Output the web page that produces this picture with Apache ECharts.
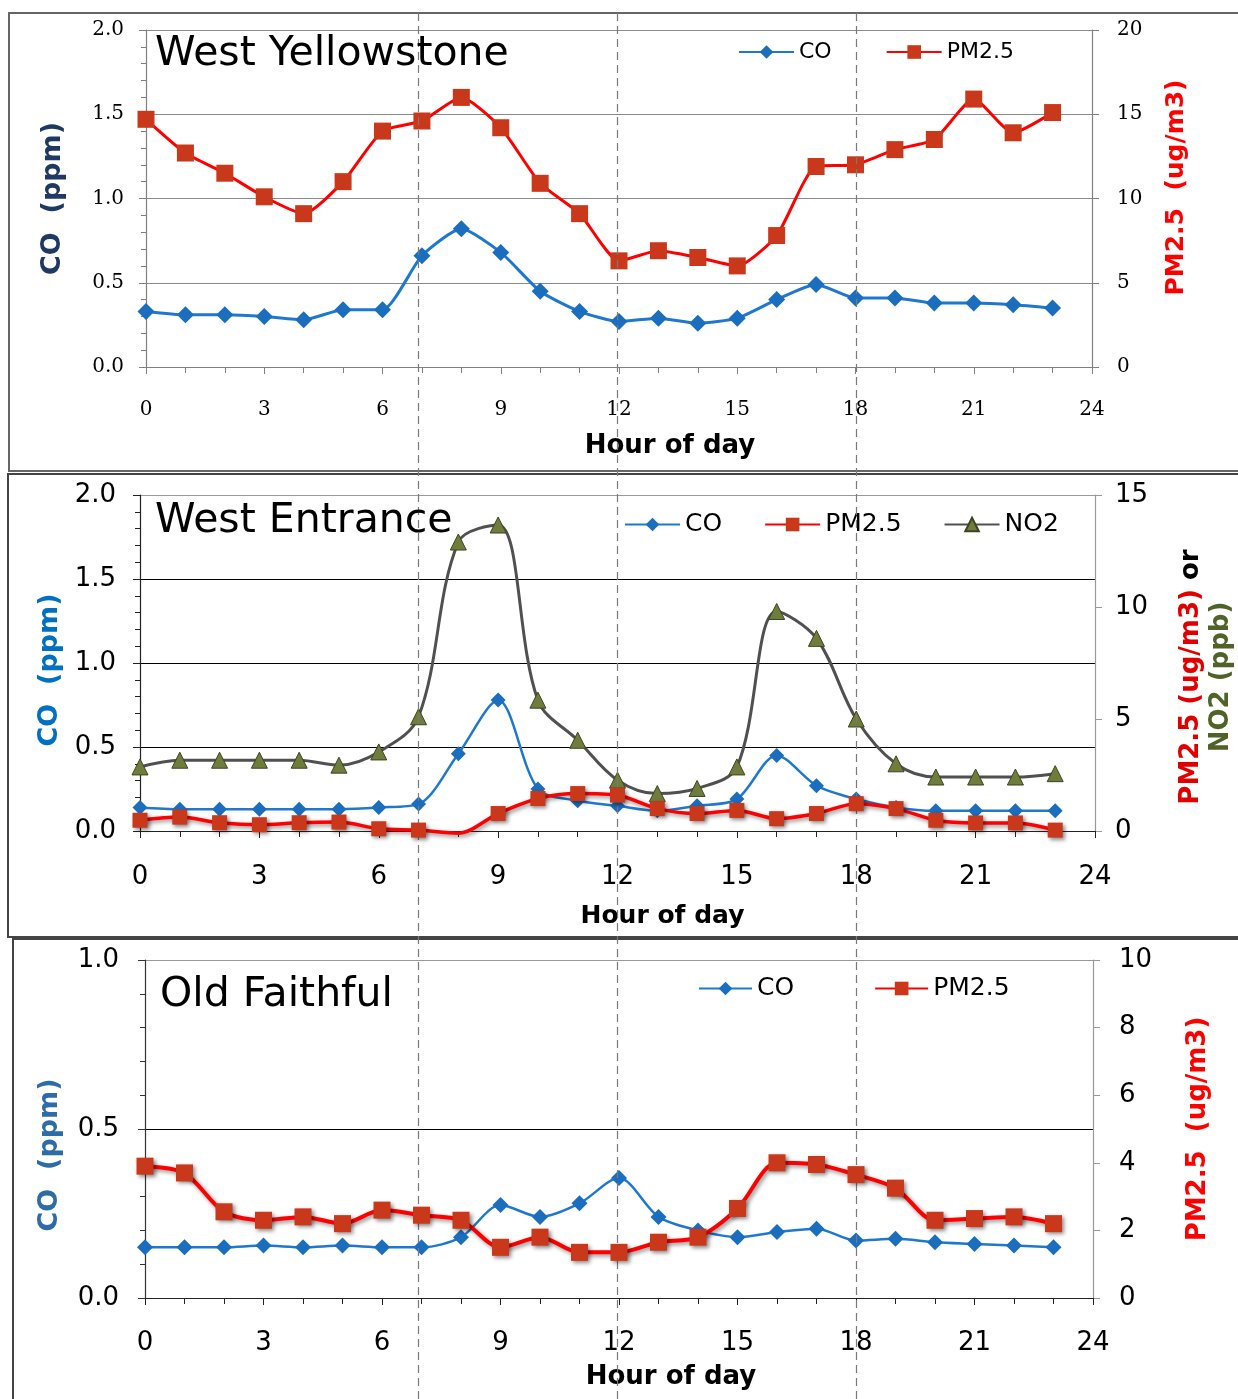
<!DOCTYPE html>
<html>
<head>
<meta charset="utf-8">
<script src="https://cdn.jsdelivr.net/npm/echarts@6/dist/echarts.min.js"></script>
<style>
html,body{margin:0;padding:0;background:#fff;}
#chart{width:1238px;height:1399px;}
</style>
</head>
<body>
<div id="chart"></div>
<script>
// ---------- DATA ----------
const hours = [0,1,2,3,4,5,6,7,8,9,10,11,12,13,14,15,16,17,18,19,20,21,22,23];
const xTicks = [0,3,6,9,12,15,18,21,24];
const refHours = [7,12,18];

// West Yellowstone
const wyCO   = [0.33,0.31,0.31,0.30,0.28,0.34,0.34,0.66,0.82,0.68,0.45,0.33,0.27,0.29,0.26,0.29,0.40,0.49,0.41,0.41,0.38,0.38,0.37,0.35];
const wyPM25 = [14.7,12.7,11.5,10.1,9.1,11.0,14.0,14.6,16.0,14.2,10.9,9.1,6.3,6.9,6.5,6.0,7.8,11.9,12.0,12.9,13.5,15.9,13.9,15.1];

// West Entrance
const weCO   = [0.14,0.13,0.13,0.13,0.13,0.13,0.14,0.16,0.46,0.78,0.25,0.18,0.15,0.12,0.15,0.19,0.45,0.27,0.19,0.14,0.12,0.12,0.12,0.12];
const wePM25 = [0.48,0.62,0.37,0.28,0.37,0.40,0.10,0.04,-0.1,0.78,1.45,1.67,1.60,1.00,0.78,0.92,0.55,0.78,1.22,1.00,0.48,0.36,0.36,0.04];
const weNO2  = [2.86,3.16,3.16,3.16,3.16,2.94,3.53,5.1,12.9,13.66,5.84,4.05,2.27,1.67,1.90,2.86,9.8,8.6,5.0,3.0,2.41,2.41,2.41,2.56];

// Old Faithful
const ofCO   = [0.15,0.15,0.15,0.155,0.15,0.155,0.15,0.15,0.18,0.275,0.24,0.28,0.355,0.24,0.20,0.18,0.195,0.205,0.17,0.175,0.165,0.16,0.155,0.15];
const ofPM25 = [3.9,3.7,2.55,2.3,2.4,2.2,2.6,2.45,2.3,1.5,1.8,1.35,1.35,1.65,1.8,2.65,4.0,3.95,3.65,3.25,2.3,2.35,2.4,2.2];

// ---------- HELPERS ----------
const pairs = vals => hours.map((h,i)=>[h, vals[i]]);
const SANS = '"DejaVu Sans", "Liberation Sans", Arial, sans-serif';
const SERIF = '"DejaVu Serif", "Liberation Serif", serif';

function xAxisFor(gi, o){
  return {
    type:'value', gridIndex:gi, min:0, max:24, interval:3,
    axisLine:{show:true, lineStyle:{color:o.axisColor, width:1.2}},
    axisTick:{show:true, inside:false, length:7, lineStyle:{color:o.axisColor}},
    minorTick:{show:true, splitNumber:3, length:6, lineStyle:{color:o.axisColor}},
    splitLine:{show:false},
    axisLabel:{fontFamily:o.labelFont, fontSize:o.labelSize, color:'#000', margin:o.labelMargin,
      formatter: v => xTicks.indexOf(v) >= 0 ? String(v) : ''},
    name:'Hour of day', nameLocation:'middle', nameGap:o.nameGap,
    nameTextStyle:{fontFamily:SANS, fontWeight:'bold', fontSize:o.nameSize, color:'#000', padding:[0,0,0,o.namePad]}
  };
}

const COc = '#1f78cf', COm = '#1b6dbd';
const PMc = '#ff0000', PMm = '#c9381a';
const NOc = '#505050', NOm = '#6e7d3c';
const hideNeg = size => (v => v[1] < 0 ? 0 : size);

const option = {
  animation:false,
  backgroundColor:'#fff',
  graphic:[
    {type:'rect', z:-10, shape:{x:9, y:13, width:1250, height:458}, style:{fill:'none', stroke:'#666', lineWidth:2}},
    {type:'rect', z:-10, shape:{x:8, y:474, width:1250, height:463}, style:{fill:'none', stroke:'#444', lineWidth:2}},
    {type:'rect', z:-10, shape:{x:13, y:939, width:1250, height:480}, style:{fill:'none', stroke:'#444', lineWidth:2}}
  ],
  title:[
    {text:'West Yellowstone', left:150, top:29, textStyle:{fontFamily:SANS, fontSize:41, fontWeight:'normal', color:'#000'}},
    {text:'West Entrance', left:150, top:496, textStyle:{fontFamily:SANS, fontSize:41, fontWeight:'normal', color:'#000'}},
    {text:'Old Faithful', left:155, top:970, textStyle:{fontFamily:SANS, fontSize:41, fontWeight:'normal', color:'#000'}}
  ],
  legend:[
    {data:['CO','PM2.5'], left:733, top:36, itemWidth:55, itemHeight:17, itemGap:54,
      textStyle:{fontFamily:SANS, fontSize:22, color:'#000'}},
    {data:['CO','PM2.5','NO2'], left:619, top:507, itemWidth:55, itemHeight:17, itemGap:42,
      textStyle:{fontFamily:SANS, fontSize:25, color:'#000'}},
    {data:['CO','PM2.5'], left:693, top:971, itemWidth:53, itemHeight:17, itemGap:80,
      textStyle:{fontFamily:SANS, fontSize:25, color:'#000'}}
  ],
  grid:[
    {left:146, right:146, top:30, height:337, outerBoundsMode:'none', containLabel:false},
    {left:140, right:143, top:495, height:336, outerBoundsMode:'none', containLabel:false},
    {left:145, right:145, top:960, height:338, outerBoundsMode:'none', containLabel:false},
    {left:140, right:143, top:13, bottom:0, outerBoundsMode:'none', containLabel:false}
  ],
  xAxis:[
    xAxisFor(0,{axisColor:'#808080', labelFont:SERIF, labelSize:20, labelMargin:33, nameGap:66, nameSize:26, namePad:102}),
    xAxisFor(1,{axisColor:'#222', labelFont:SANS, labelSize:26, labelMargin:33, nameGap:73, nameSize:25, namePad:90}),
    xAxisFor(2,{axisColor:'#222', labelFont:SANS, labelSize:26, labelMargin:32, nameGap:66, nameSize:26, namePad:104}),
    {type:'value', gridIndex:3, min:0, max:24, show:false}
  ],
  yAxis:[
    // West Yellowstone
    {type:'value', gridIndex:0, position:'left', min:0, max:2, interval:0.5,
      axisLine:{show:true, lineStyle:{color:'#808080', width:1.2}},
      axisTick:{show:true, length:7, lineStyle:{color:'#808080'}},
      minorTick:{show:true, splitNumber:5, length:5, lineStyle:{color:'#808080'}},
      splitLine:{show:true, lineStyle:{color:'#8a8a8a', width:1.2}},
      axisLabel:{fontFamily:SERIF, fontSize:20, color:'#000', margin:22, formatter:v=>v.toFixed(1)},
      name:'CO  (ppm)', nameLocation:'middle', nameRotate:90, nameGap:80,
      nameTextStyle:{fontFamily:SANS, fontWeight:'bold', fontSize:27, color:'#1f3864'}},
    {type:'value', gridIndex:0, position:'right', min:0, max:20, interval:5,
      axisLine:{show:true, lineStyle:{color:'#808080', width:1.2}},
      axisTick:{show:true, length:7, lineStyle:{color:'#808080'}},
      splitLine:{show:false},
      axisLabel:{fontFamily:SERIF, fontSize:20, color:'#000', margin:25},
      name:'PM2.5  (ug/m3)', nameLocation:'middle', nameRotate:90, nameGap:72,
      nameTextStyle:{fontFamily:SANS, fontWeight:'bold', fontSize:25, color:'#ff0000', padding:[0,0,0,22]}},
    // West Entrance
    {type:'value', gridIndex:1, position:'left', min:0, max:2, interval:0.5,
      axisLine:{show:true, lineStyle:{color:'#222', width:1.2}},
      axisTick:{show:true, length:7, lineStyle:{color:'#222'}},
      minorTick:{show:true, splitNumber:5, length:5, lineStyle:{color:'#222'}},
      splitLine:{show:true, lineStyle:{color:['#000','#000','#000','#000','#999'], width:1.2}},
      axisLabel:{fontFamily:SANS, fontSize:26, color:'#000', margin:24, formatter:v=>v.toFixed(1)},
      name:'CO  (ppm)', nameLocation:'middle', nameRotate:90, nameGap:75,
      nameTextStyle:{fontFamily:SANS, fontWeight:'bold', fontSize:27, color:'#0070c0', padding:[0,14,0,0]}},
    {type:'value', gridIndex:1, position:'right', min:0, max:15, interval:5,
      axisLine:{show:true, lineStyle:{color:'#999', width:1.2}},
      axisTick:{show:true, length:7, lineStyle:{color:'#999'}},
      splitLine:{show:false},
      axisLabel:{fontFamily:SANS, fontSize:26, color:'#000', margin:20},
      name:'{r|PM2.5 (ug/m3)} {k|or}\n{g|NO2 (ppb)}', nameLocation:'middle', nameRotate:90, nameGap:81,
      nameTextStyle:{fontFamily:SANS, fontWeight:'bold', fontSize:26, lineHeight:30, align:'center', padding:[0,28,0,0],
        rich:{
          r:{fontFamily:SANS, fontWeight:'bold', fontSize:26, color:'#e00000', lineHeight:30},
          k:{fontFamily:SANS, fontWeight:'bold', fontSize:26, color:'#000', lineHeight:30},
          g:{fontFamily:SANS, fontWeight:'bold', fontSize:26, color:'#4f6228', lineHeight:30}
        }}},
    // Old Faithful
    {type:'value', gridIndex:2, position:'left', min:0, max:1, interval:0.5,
      axisLine:{show:true, lineStyle:{color:'#333', width:1.2}},
      axisTick:{show:true, length:7, lineStyle:{color:'#333'}},
      minorTick:{show:true, splitNumber:5, length:5, lineStyle:{color:'#333'}},
      splitLine:{show:true, lineStyle:{color:['#000','#000','#999'], width:1.2}},
      axisLabel:{fontFamily:SANS, fontSize:26, color:'#000', margin:26, formatter:v=>v.toFixed(1)},
      name:'CO  (ppm)', nameLocation:'middle', nameRotate:90, nameGap:82,
      nameTextStyle:{fontFamily:SANS, fontWeight:'bold', fontSize:27, color:'#2e6ca8', padding:[0,52,0,0]}},
    {type:'value', gridIndex:2, position:'right', min:0, max:10, interval:2,
      axisLine:{show:true, lineStyle:{color:'#999', width:1.2}},
      axisTick:{show:true, length:7, lineStyle:{color:'#999'}},
      splitLine:{show:false},
      axisLabel:{fontFamily:SANS, fontSize:26, color:'#000', margin:26},
      name:'PM2.5  (ug/m3)', nameLocation:'middle', nameRotate:90, nameGap:92,
      nameTextStyle:{fontFamily:SANS, fontWeight:'bold', fontSize:26, color:'#ff0000'}},
    // overlay for reference lines
    {type:'value', gridIndex:3, min:0, max:1, show:false}
  ],
  series:[
    // West Yellowstone
    {name:'PM2.5', type:'line', xAxisIndex:0, yAxisIndex:1, data:pairs(wyPM25), smooth:0.2,
      symbol:'rect', symbolSize:17, lineStyle:{color:PMc, width:3}, itemStyle:{color:PMm}, z:3},
    {name:'CO', type:'line', xAxisIndex:0, yAxisIndex:0, data:pairs(wyCO), smooth:0.2,
      symbol:'diamond', symbolSize:17, lineStyle:{color:COc, width:3}, itemStyle:{color:COm}, z:4},
    // West Entrance
    {name:'NO2', type:'line', xAxisIndex:1, yAxisIndex:3, data:pairs(weNO2), smooth:0.35,
      symbol:'triangle', symbolSize:16, lineStyle:{color:NOc, width:3}, itemStyle:{color:NOm, borderColor:'#3d4420', borderWidth:1}, z:3},
    {name:'CO', type:'line', xAxisIndex:1, yAxisIndex:2, data:pairs(weCO), smooth:0.3,
      symbol:'diamond', symbolSize:15, lineStyle:{color:COc, width:2.5}, itemStyle:{color:COm}, z:4},
    {name:'PM2.5', type:'line', xAxisIndex:1, yAxisIndex:3, data:pairs(wePM25), smooth:0.3, clip:false,
      symbol:'rect', symbolSize:hideNeg(15),
      lineStyle:{color:PMc, width:3.5, shadowBlur:4, shadowColor:'rgba(0,0,0,0.45)', shadowOffsetX:2, shadowOffsetY:2},
      itemStyle:{color:PMm, shadowBlur:4, shadowColor:'rgba(0,0,0,0.45)', shadowOffsetX:2, shadowOffsetY:2}, z:5},
    // Old Faithful
    {name:'CO', type:'line', xAxisIndex:2, yAxisIndex:4, data:pairs(ofCO), smooth:0.3,
      symbol:'diamond', symbolSize:16, lineStyle:{color:COc, width:2.5}, itemStyle:{color:COm}, z:4},
    {name:'PM2.5', type:'line', xAxisIndex:2, yAxisIndex:5, data:pairs(ofPM25), smooth:0.3,
      symbol:'rect', symbolSize:17,
      lineStyle:{color:PMc, width:4, shadowBlur:4, shadowColor:'rgba(0,0,0,0.45)', shadowOffsetX:2, shadowOffsetY:2},
      itemStyle:{color:PMm, shadowBlur:4, shadowColor:'rgba(0,0,0,0.45)', shadowOffsetX:2, shadowOffsetY:2}, z:5},
    // vertical dashed reference lines across all panels
    {type:'line', xAxisIndex:3, yAxisIndex:6, data:[], silent:true, z:1,
      markLine:{symbol:'none', silent:true, animation:false, label:{show:false},
        lineStyle:{color:'#7a7a7a', type:[8,5], width:1.2},
        data: refHours.map(h => ({xAxis:h}))}}
  ]
};

const chart = echarts.init(document.getElementById('chart'), null, {renderer:'canvas'});
chart.setOption(option);
</script>
</body>
</html>
